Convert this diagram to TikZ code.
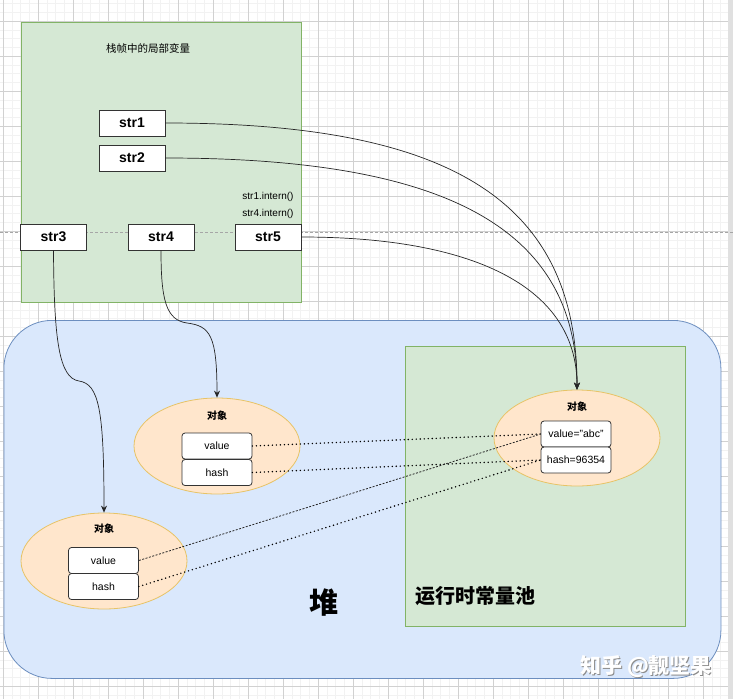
\documentclass[tikz,border=0pt]{standalone}
\usepackage{fontspec}
\setmainfont{Liberation Sans}
\newfontfamily\cjk{Noto Sans CJK SC}
\usetikzlibrary{shapes.geometric,arrows.meta}
\definecolor{greenfill}{HTML}{D5E8D4}
\definecolor{greenline}{HTML}{82B366}
\definecolor{bluefill}{HTML}{DAE8FC}
\definecolor{blueline}{HTML}{6C8EBF}
\definecolor{orangefill}{HTML}{FFE6CC}
\definecolor{orangeline}{HTML}{D79B00}
\tikzset{
  varbox/.style={draw=black!80,fill=white,line width=0.8pt,minimum width=66pt,minimum height=26pt,inner sep=0pt,font=\fontsize{14}{16}\selectfont\bfseries},
  objell/.style={ellipse,draw=orangeline!60,fill=orangefill,line width=0.8pt,minimum width=166pt,minimum height=96pt,inner sep=0pt},
  fieldbox/.style={draw=black!80,fill=white,rounded corners=3pt,line width=0.8pt,minimum width=70pt,minimum height=26pt,inner sep=0pt,font=\fontsize{10.5}{12}\selectfont},
  ref/.style={draw=black!85,line width=0.7pt,-{Stealth[length=7pt,width=6pt]}},
  dotline/.style={draw=black,line width=1.6pt,line cap=round,dash pattern=on 0pt off 4pt},
  fineline/.style={draw=black!85,line width=0.8pt,dash pattern=on 2pt off 1.5pt},
  lbl/.style={inner sep=0pt},
}
\begin{document}
\begin{tikzpicture}[x=1pt,y=-1pt]
\useasboundingbox (0,0) rectangle (733,699);
\fill[white] (0,0) rectangle (733,699);
% grid
\foreach \i in {0,...,84} {
  \draw[black!5,line width=0.4pt] ({3+8.75*(\i-1)},0) -- ({3+8.75*(\i-1)},699);
}
\foreach \i in {0,...,80} {
  \draw[black!5,line width=0.4pt] (0,{21+8.75*(\i-3)}) -- (733,{21+8.75*(\i-3)});
}
\foreach \i in {0,...,21} {
  \draw[black!18,line width=0.5pt] ({3+35*\i},0) -- ({3+35*\i},699);
}
\foreach \i in {-1,...,20} {
  \draw[black!18,line width=0.5pt] (0,{21+35*\i}) -- (733,{21+35*\i});
}
\fill[black!12] (728,0) rectangle (733,699);
% stack frame
\node[draw=greenline,fill=greenfill,line width=0.8pt,minimum width=280pt,minimum height=280pt,inner sep=0pt,anchor=north west] (stack) at (20.5,22) {};
\draw[black!35,line width=0.6pt,dash pattern=on 3pt off 2pt] (0,232) -- (733,232);
\node[lbl,font=\cjk\fontsize{10.5}{12}\selectfont] (stitle) at (148,48) {栈帧中的局部变量};
\node[varbox] (s1) at (132,123) {str1};
\node[varbox] (s2) at (132,158) {str2};
\node[varbox] (s3) at (53.5,237) {str3};
\node[varbox] (s4) at (161,237) {str4};
\node[varbox] (s5) at (268,237) {str5};
\node[lbl,font=\fontsize{10}{12}\selectfont] (i1) at (268,197) {str1.intern()};
\node[lbl,font=\fontsize{10}{12}\selectfont] (i2) at (268,214) {str4.intern()};
% heap
\node[draw=blueline,fill=bluefill,line width=0.8pt,rounded corners=48pt,minimum width=717pt,minimum height=358pt,inner sep=0pt,anchor=north west] (heap) at (3.5,320) {};
\node[draw=greenline,fill=greenfill,line width=0.8pt,minimum width=280pt,minimum height=280pt,inner sep=0pt,anchor=north west] (pool) at (405,346) {};
\node[lbl,font=\cjk\bfseries\fontsize{29}{32}\selectfont] (heaplbl) at (324,603) {堆};
\node[lbl,anchor=west,font=\cjk\bfseries\fontsize{20}{22}\selectfont] (poollbl) at (415,596) {运行时常量池};
% objects
\node[objell] (o1) at (217,446) {};
\node[lbl,font=\cjk\bfseries\fontsize{10}{12}\selectfont] (o1t) at (217,416) {对象};
\node[fieldbox] (o1v) at (217,446) {value};
\node[fieldbox] (o1h) at (217,472.5) {hash};
\node[objell] (o2) at (104,561) {};
\node[lbl,font=\cjk\bfseries\fontsize{10}{12}\selectfont] (o2t) at (104,529) {对象};
\node[fieldbox] (o2v) at (103.5,560.5) {value};
\node[fieldbox] (o2h) at (103.5,586.5) {hash};
\node[objell] (o3) at (577,438) {};
\node[lbl,font=\cjk\bfseries\fontsize{10}{12}\selectfont] (o3t) at (577,407) {对象};
\node[fieldbox] (o3v) at (576,434) {value="abc"};
\node[fieldbox] (o3h) at (576,460) {hash=96354};
% references
\coordinate (m3) at (79,381);
\coordinate (m4) at (187,323);
\draw[ref] (s1.east) .. controls (450,123) and (577,200) .. (o3.north);
\draw[ref] (s2.east) .. controls (440,158) and (577,225) .. (o3.north);
\draw[ref] (s5.east) .. controls (470,237) and (577,285) .. (o3.north);
\draw[ref] (s3.south) .. controls (54,340) and (59,378) .. (m3) .. controls (99,384) and (104,410) .. (o2.north);
\draw[ref] (s4.south) .. controls (161,300) and (166,320) .. (m4) .. controls (210,326) and (217,335) .. (o1.north);
% field links
\draw[dotline] (o1v.east) -- (o3v.west);
\draw[dotline] (o1h.east) -- (o3h.west);
\draw[fineline] (o2v.east) -- (o3v.west);
\draw[dotline] (o2h.east) -- (o3h.west);
% watermark
\node[lbl,anchor=west,text=black!45,font=\cjk\bfseries\fontsize{21}{24}\selectfont] (wm0) at (581,667.8) {知乎 @靓坚果};
\node[lbl,anchor=west,text=white,font=\cjk\bfseries\fontsize{21}{24}\selectfont] (wm) at (580,667) {知乎 @靓坚果};
\end{tikzpicture}
\end{document}
